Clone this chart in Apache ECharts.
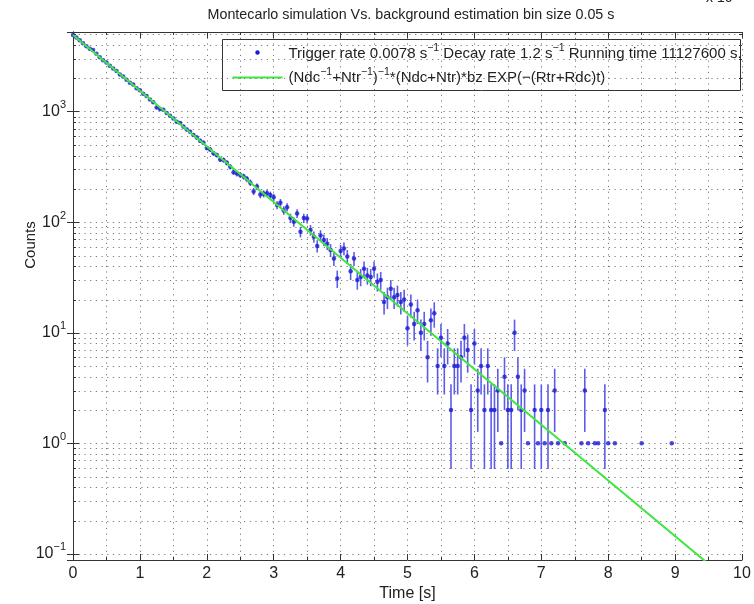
<!DOCTYPE html>
<html>
<head>
<meta charset="utf-8">
<script src="https://cdn.jsdelivr.net/npm/echarts@6/dist/echarts.min.js"></script>
<style>
html, body { margin: 0; padding: 0; background: #fff; }
#chart { width: 754px; height: 604px; }
</style>
</head>
<body>
<div id="chart"></div>
<script>
// bin start times (s) of the non-empty bins, bin size 0.05 s
var times = [
    0, 0.05, 0.1, 0.15, 0.2, 0.25, 0.3, 0.35, 0.4, 0.45, 0.5, 0.55, 0.6, 0.65, 0.7, 0.75, 0.8, 0.85, 0.9, 0.95,
    1, 1.05, 1.1, 1.15, 1.2, 1.25, 1.3, 1.35, 1.4, 1.45, 1.5, 1.55, 1.6, 1.65, 1.7, 1.75, 1.8, 1.85, 1.9, 1.95,
    2, 2.05, 2.1, 2.15, 2.2, 2.25, 2.3, 2.35, 2.4, 2.45, 2.5, 2.55, 2.6, 2.65, 2.7, 2.75, 2.8, 2.85, 2.9, 2.95,
    3, 3.05, 3.1, 3.15, 3.2, 3.25, 3.3, 3.35, 3.4, 3.45, 3.5, 3.55, 3.6, 3.65, 3.7, 3.75, 3.8, 3.85, 3.9, 3.95,
    4, 4.05, 4.1, 4.15, 4.2, 4.25, 4.3, 4.35, 4.4, 4.45, 4.5, 4.55, 4.6, 4.65, 4.7, 4.75, 4.8, 4.85, 4.9, 4.95,
    5, 5.05, 5.1, 5.15, 5.2, 5.25, 5.3, 5.35, 5.4, 5.45, 5.5, 5.55, 5.6, 5.65, 5.7, 5.75, 5.8, 5.85, 5.9, 5.95,
    6, 6.05, 6.1, 6.15, 6.2, 6.25, 6.3, 6.35, 6.4, 6.45, 6.5, 6.55, 6.6, 6.65, 6.7, 6.75, 6.8, 6.9, 6.95,
    7, 7.05, 7.1, 7.15, 7.2, 7.25, 7.35, 7.6, 7.65, 7.7, 7.8, 7.85, 7.95,
    8, 8.1, 8.5, 8.95
];
var counts = [
    4950, 4700, 4420, 4160, 3900, 3720, 3610, 3340, 3110, 2920, 2790, 2600, 2460, 2340, 2170, 2080, 1950, 1830, 1760, 1630,
    1560, 1450, 1390, 1290, 1220, 1090, 1060, 1040, 975, 920, 870, 810, 790, 735, 690, 660, 615, 585, 545, 525,
    470, 455, 420, 405, 370, 365, 345, 318, 284, 276, 268, 259, 246, 228, 190, 210, 178, 181, 183, 176,
    168, 143, 150, 128, 137, 109, 101, 120, 82, 109, 108, 85, 74, 61, 76, 69, 64, 56, 47, 31,
    55, 58, 49, 36, 47, 30, 32, 38, 33, 32, 38, 29, 30, 19, 21, 25, 21, 22, 19, 20,
    11, 18, 12, 16, 10, 12, 6, 13, 15, 5, 9, 5, 8, 2, 5, 5, 6, 9, 7, 2,
    8, 3, 5, 2, 5, 2, 2, 3, 1, 4, 2, 2, 10, 4, 2, 3, 1, 2, 1,
    2, 1, 2, 1, 3, 1, 1, 1, 3, 1, 1, 1, 2,
    1, 1, 1, 1
];
// fitted curve (straight on log scale): end points
var fitTimes = [0, 9.5];
var fitCounts = [4940, 0.081];

var yMinorTicks = [
    0.2, 0.3, 0.4, 0.5, 0.6, 0.7, 0.8, 0.9,
    2, 3, 4, 5, 6, 7, 8, 9,
    20, 30, 40, 50, 60, 70, 80, 90,
    200, 300, 400, 500, 600, 700, 800, 900,
    2000, 3000, 4000, 5000
];

var FONT = '"Liberation Sans", Arial, Helvetica, sans-serif';
var TXT = '#222';
var AXC = '#333';
var GRIDC = '#7a7a7a';
var DOTS = [1.2, 4.5];

var chart = echarts.init(document.getElementById('chart'));

var points = times.map(function (t, i) { return [t, counts[i]]; });
var errData = [];
times.forEach(function (t, i) {
    var n = counts[i];
    if (n > 1) {
        errData.push([t, n - Math.sqrt(n), n + Math.sqrt(n)]);
    }
});
var fitData = fitTimes.map(function (t, i) { return [t, fitCounts[i]]; });

function expLabel(v) {
    var e = Math.round(Math.log(v) / Math.LN10);
    return '{b|10}{e|' + (e < 0 ? '\u2212' + (-e) : e) + '}';
}

var supStyle = { fontSize: 10.5, fontFamily: FONT, color: TXT, verticalAlign: 'top', lineHeight: 10 };

var option = {
    animation: false,
    backgroundColor: '#fff',
    title: {
        text: 'Montecarlo simulation Vs. background estimation bin size 0.05 s',
        left: 406,
        top: 3,
        textAlign: 'center',
        textStyle: { fontFamily: FONT, fontSize: 14.3, fontWeight: 'normal', color: TXT }
    },
    grid: { left: 73, top: 32, width: 669, height: 528, containLabel: false, outerBoundsMode: 'none' },
    xAxis: [{
        type: 'value',
        min: 0, max: 10, interval: 1,
        name: 'Time [s]',
        nameLocation: 'middle',
        nameGap: 26,
        nameMoveOverlap: false,
        nameTextStyle: { fontFamily: FONT, fontSize: 16, color: TXT },
        axisLine: { lineStyle: { color: AXC, width: 1 } },
        axisTick: { inside: true, length: 6, lineStyle: { color: AXC } },
        minorTick: { show: true, splitNumber: 2, length: 3, lineStyle: { color: AXC } },
        axisLabel: { fontFamily: FONT, fontSize: 16, color: TXT, margin: 6 },
        splitLine: { show: true, lineStyle: { color: GRIDC, type: DOTS } },
        minorSplitLine: { show: true, lineStyle: { color: GRIDC, type: DOTS } }
    }, {
        type: 'value',
        position: 'top',
        min: 0, max: 10, interval: 1,
        axisLine: { lineStyle: { color: AXC, width: 1 } },
        axisTick: { inside: true, length: 6, lineStyle: { color: AXC } },
        minorTick: { show: true, splitNumber: 2, length: 3, lineStyle: { color: AXC } },
        axisLabel: { show: false },
        splitLine: { show: false }
    }],
    yAxis: [{
        type: 'log',
        logBase: 10,
        min: 0.088, max: 5260,
        name: 'Counts',
        nameLocation: 'middle',
        nameGap: 35,
        nameMoveOverlap: false,
        nameTextStyle: { fontFamily: FONT, fontSize: 15, color: TXT, padding: [0, 0, 0, 102] },
        axisLine: { lineStyle: { color: AXC, width: 1 } },
        axisTick: { inside: true, length: 6, lineStyle: { color: AXC } },
        axisLabel: {
            showMinLabel: false, showMaxLabel: false, margin: 7,
            formatter: expLabel,
            rich: {
                b: { fontSize: 16, fontFamily: FONT, color: TXT, lineHeight: 24 },
                e: { fontSize: 11, fontFamily: FONT, color: TXT, verticalAlign: 'top', lineHeight: 11 }
            }
        },
        splitLine: { show: true, lineStyle: { color: GRIDC, type: DOTS } }
    }, {
        type: 'log',
        logBase: 10,
        position: 'right',
        min: 0.088, max: 5260,
        axisLine: { lineStyle: { color: AXC, width: 1 } },
        axisTick: { inside: true, length: 6, lineStyle: { color: AXC } },
        axisLabel: { show: false },
        splitLine: { show: false }
    }],
    graphic: [
        {
            type: 'text', left: 706, top: -9, silent: true,
            style: { text: 'x 10', font: '14px ' + FONT, fill: TXT }
        },
        {
            type: 'group', left: 222, top: 39, z: 100,
            children: [
                { type: 'rect', shape: { x: 0, y: 0, width: 518, height: 51 },
                  style: { fill: '#fff', stroke: AXC, lineWidth: 1 } },
                { type: 'circle', shape: { cx: 35, cy: 13, r: 2.2 }, style: { fill: '#1a1ad6' } },
                { type: 'line', shape: { x1: 10, y1: 38, x2: 60, y2: 38 },
                  style: { stroke: '#3ee63e', lineWidth: 2 } },
                { type: 'text', x: 66, y: 14,
                  style: {
                      text: 'Trigger rate 0.0078 s{s|\u22121} Decay rate 1.2 s{s|\u22121} Running time 11127600 s.',
                      font: '15px ' + FONT, fill: TXT, verticalAlign: 'middle', lineHeight: 22,
                      rich: { s: supStyle }
                  } },
                { type: 'text', x: 66, y: 38,
                  style: {
                      text: '(Ndc{s|\u22121}+Ntr{s|\u22121}){s|\u22121}*(Ndc+Ntr)*bz EXP(\u2212(Rtr+Rdc)t)',
                      font: '15px ' + FONT, fill: TXT, verticalAlign: 'middle', lineHeight: 22,
                      rich: { s: supStyle }
                  } }
            ]
        }
    ],
    series: [
        {
            // dotted minor grid lines and minor ticks of the log axis
            type: 'custom',
            silent: true,
            z: 1,
            clip: true,
            data: yMinorTicks.map(function (v) { return [0, v]; }),
            renderItem: function (params, api) {
                var cs = params.coordSys;
                var y = Math.round(api.coord([0, api.value(1)])[1]) + 0.5;
                return {
                    type: 'group',
                    children: [
                        { type: 'line', shape: { x1: cs.x, y1: y, x2: cs.x + cs.width, y2: y },
                          style: { stroke: GRIDC, lineWidth: 1, lineDash: DOTS } },
                        { type: 'line', shape: { x1: cs.x, y1: y, x2: cs.x + 3, y2: y },
                          style: { stroke: AXC, lineWidth: 1 } },
                        { type: 'line', shape: { x1: cs.x + cs.width - 3, y1: y, x2: cs.x + cs.width, y2: y },
                          style: { stroke: AXC, lineWidth: 1 } }
                    ]
                };
            }
        },
        {
            name: 'errors',
            type: 'custom',
            z: 3,
            clip: true,
            silent: true,
            data: errData,
            encode: { x: 0, y: [1, 2] },
            renderItem: function (params, api) {
                var hi = api.coord([api.value(0), api.value(2)]);
                var lo = api.coord([api.value(0), api.value(1)]);
                return {
                    type: 'line',
                    shape: { x1: hi[0], y1: hi[1], x2: lo[0], y2: lo[1] },
                    style: { stroke: '#5c5ce8', lineWidth: 1.6 }
                };
            }
        },
        {
            name: 'Trigger rate',
            type: 'scatter',
            z: 4,
            symbol: 'circle',
            symbolSize: 4.5,
            itemStyle: { color: '#1a1ad6' },
            data: points
        },
        {
            name: 'fit',
            type: 'line',
            z: 5,
            clip: true,
            symbol: 'none',
            lineStyle: { color: '#3ee63e', width: 2 },
            data: fitData
        }
    ]
};

chart.setOption(option);
</script>
</body>
</html>
